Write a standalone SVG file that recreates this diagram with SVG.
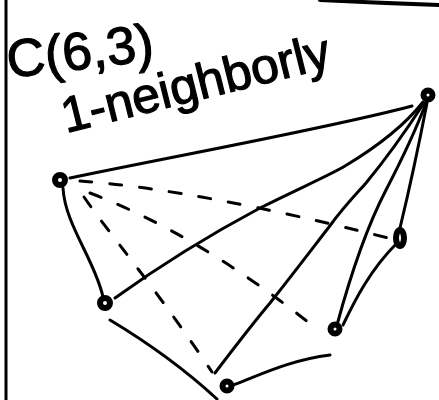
<svg xmlns="http://www.w3.org/2000/svg" width="439" height="400" viewBox="0 0 439 400">
<style>
.e{fill:none;stroke:#000;stroke-width:3;stroke-linecap:round;stroke-linejoin:round}
.d{fill:none;stroke:#000;stroke-width:3;stroke-linecap:round;stroke-dasharray:12 18}
.n{fill:#fff;stroke:#000;stroke-width:6}
.t{font-family:"Liberation Sans",Arial,sans-serif;fill:#000;stroke:#000;stroke-width:1.2;stroke-linejoin:round}
</style>
<rect width="439" height="400" fill="#fff"/>
<g id="frame" class="e">
<path d="M6,0 L6,400" stroke-width="3"/>
<path d="M320,0 Q380,3 439,5" stroke-width="4"/>
</g>
<g id="labels">
<text class="t" x="9" y="78" font-size="53" transform="rotate(-7 9 78)">C(6,3)</text>
<text class="t" x="66" y="133" font-size="50" transform="rotate(-14 66 133)">1-neighborly</text>
</g>
<g id="connectors">
<path class="e" d="M70,178 C180,155 330,128 412,106"/>
<path class="e" d="M63,188 C65,225 95,260 103,297"/>
<path class="e" d="M115,298 C165,262 215,232 260,208 C300,188 330,175 345,166 C375,148 405,125 423,102"/>
<path class="e" d="M215,373 C240,340 260,315 270,303 C300,265 315,245 329,227 C345,205 360,190 366,183 C385,160 400,140 424,103"/>
<path class="e" d="M337,325 Q360,240 386,190 T426,103"/>
<path class="e" d="M400,228 Q414,170 427,103"/>
<path class="e" d="M343,325 C355,300 370,270 397,243"/>
<path class="e" d="M110,320 C140,338 180,365 217,399"/>
<path class="e" d="M233,385 C260,375 290,360 330,355"/>
<path class="d" d="M80,181 Q200,190 392,239"/>
<path class="d" d="M90,193 Q200,235 318,330"/>
<path class="d" d="M84,197 C110,235 150,280 212,372"/>
</g>
<g id="nodeA"><circle class="n" cx="428" cy="95" r="4.5"/></g>
<g id="nodeB"><circle class="n" cx="60" cy="180" r="5"/></g>
<g id="nodeC"><circle class="n" cx="105" cy="303" r="5"/></g>
<g id="nodeD"><circle class="n" cx="227" cy="386" r="4.5"/></g>
<g id="nodeE"><circle class="n" cx="335" cy="329" r="4.5"/></g>
<g id="nodeF"><ellipse class="n" cx="400" cy="238" rx="4" ry="8"/></g>
</svg>
